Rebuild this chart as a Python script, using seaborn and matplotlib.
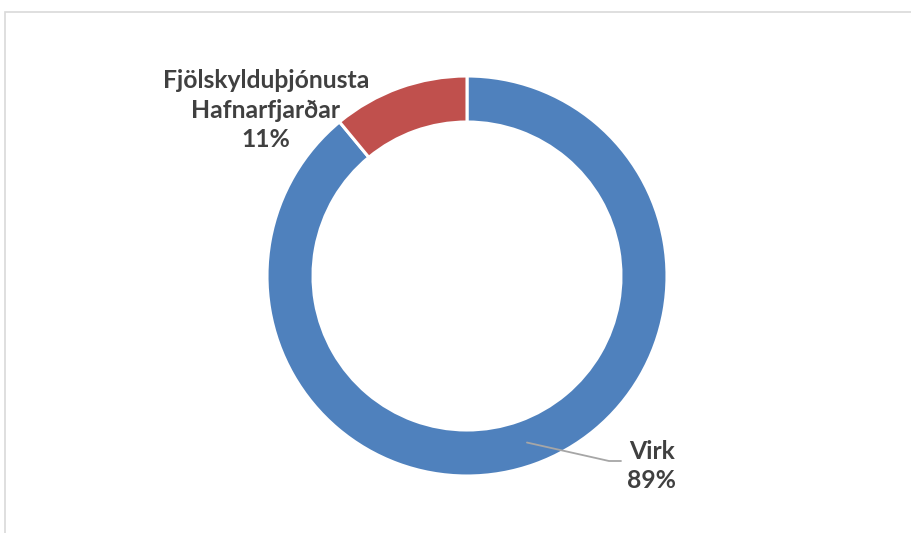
"""Donut chart: Virk vs Fjölskylduþjónusta Hafnarfjarðar."""

import matplotlib.pyplot as plt
import numpy as np
import seaborn as sns
from matplotlib.patches import Rectangle

categories = ["Virk", "Fjölskylduþjónusta\nHafnarfjarðar"]
shares = [89, 11]
colors = ["#4F81BD", "#C0504D"]

sns.set_theme(style="white")
plt.rcParams["font.family"] = ["Lato", "DejaVu Sans"]

fig = plt.figure(figsize=(9.12, 5.33), dpi=100)
fig.patch.set_facecolor("white")

# light frame around the chart area (runs off right/bottom edges)
fig.patches.append(
    Rectangle((5.5 / 912, -0.2), 1.2, 1.2 - 11.5 / 533, transform=fig.transFigure,
              fill=False, edgecolor="#D9D9D9", lw=1.2)
)

ax = fig.add_axes([(467 - 200) / 912, (533 - 276 - 200) / 533, 400 / 912, 400 / 533])
wedges, _ = ax.pie(
    shares,
    colors=colors,
    startangle=90,
    counterclock=False,
    radius=1.0,
    wedgeprops=dict(width=0.23, edgecolor="white", linewidth=2.2),
)
ax.set_xlim(-1, 1)
ax.set_ylim(-1, 1)
ax.set_aspect("auto")
ax.axis("off")

text_kw = dict(fontsize=17.8, fontweight="bold", color="#404040", ha="center",
               va="center", linespacing=1.32)

# Virk label with leader line from the middle of the ring
w = wedges[0]
mid = np.deg2rad((w.theta1 + w.theta2) / 2)
r_mid = 1 - 0.23 / 2
start = (r_mid * np.cos(mid), r_mid * np.sin(mid))
ax.plot([start[0], 0.71, 0.77], [start[1], -0.925, -0.925], color="#A6A6A6", lw=1.3)
ax.text(0.925, -0.95, f"{categories[0]}\n{shares[0]}%", **text_kw)

# second label, no leader line
ax.text(-1.005, 0.83, f"{categories[1]}\n{shares[1]}%", **text_kw)

plt.savefig("out.png", dpi=100)
plt.close()
